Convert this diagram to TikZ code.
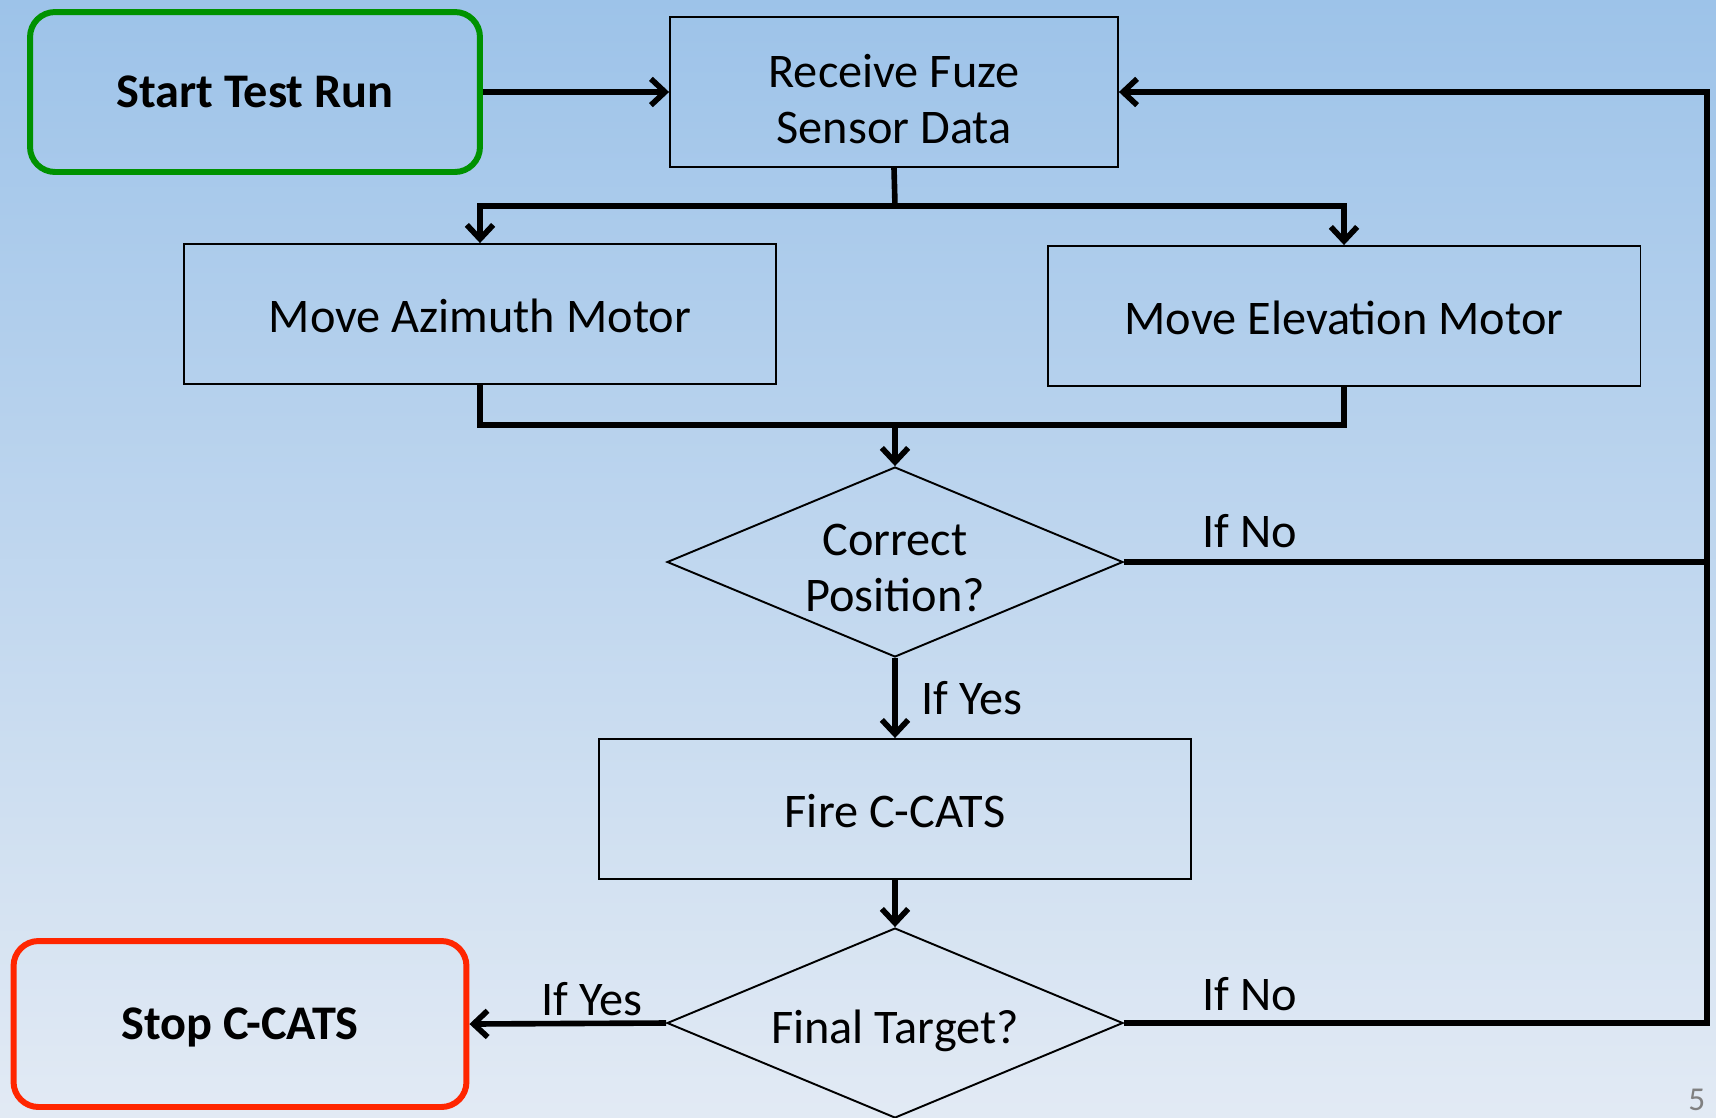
\documentclass[tikz,border=0pt]{standalone}
\usepackage{fontspec}
\setmainfont{Carlito}
\usetikzlibrary{shapes.geometric,arrows.meta}

\definecolor{bgtop}{RGB}{157,195,233}
\definecolor{bgbot}{RGB}{226,234,244}
\definecolor{startgreen}{RGB}{0,146,0}
\definecolor{stopred}{RGB}{255,38,0}

% push a (multi-line) text down inside its node: #1 = extra height on top
\newcommand{\lowtext}[2]{\makebox[0pt]{\raisebox{0pt}[\dimexpr\height+#1\relax][\depth]{\begin{tabular}{@{}c@{}}#2\end{tabular}}}}

\tikzset{
  stepbox/.style={draw, line width=1.1pt, minimum width=11.86cm, minimum height=2.8cm,
    font=\fontsize{27.5}{32}\selectfont},
  ends/.style={draw, rounded corners=0.5cm, line width=3.4pt,
    font=\fontsize{27.5}{32}\selectfont\bfseries},
  decision/.style={diamond, draw, line width=1.1pt, aspect=2.4, inner sep=0pt,
    minimum width=9.12cm, minimum height=3.8cm,
    font=\fontsize{27.5}{32}\selectfont},
  wire/.style={line width=3.2pt},
  conn/.style={wire, -{Straight Barb[length=8pt,width=15pt]}},
  lbl/.style={font=\fontsize{27.5}{32}\selectfont}
}

\begin{document}
\begin{tikzpicture}[x=0.02cm, y=-0.02cm]
  % Background
  \useasboundingbox (0,0) rectangle (1716,1117);
  \shade[top color=bgtop, bottom color=bgbot] (0,0) rectangle (1716,1117);

  % Boxes
  \node[ends, draw=startgreen, minimum width=9cm, minimum height=3.2cm] (start) at (255,92) {Start Test Run};
  \node[stepbox, minimum width=8.96cm, minimum height=3cm] (recv) at (894,92) {\lowtext{0.5cm}{Receive Fuze\\Sensor Data}};
  \node[stepbox] (azi) at (480,314) {\lowtext{0.3cm}{Move Azimuth Motor}};
  \node[stepbox] (elev) at (1344,316) {\lowtext{0.3cm}{Move Elevation Motor}};
  \node[decision] (pos) at (895,562) {\lowtext{0.4cm}{Correct\\Position?}};
  \node[stepbox] (fire) at (895,809) {\lowtext{0.28cm}{Fire C-CATS}};
  \node[decision] (final) at (895,1023) {\lowtext{0.36cm}{Final Target?}};
  \node[ends, draw=stopred, minimum width=9.06cm, minimum height=3.32cm] (stop) at (240,1024) {\lowtext{0.16cm}{Stop C-CATS}};

  % Connectors
  \draw[conn] (start) -- (recv);
  \coordinate (split) at (895,206);
  \draw[wire] (recv.south) -- (split);
  \draw[conn] (split) -| (azi.north);
  \draw[conn] (split) -| (elev.north);

  \coordinate (merge) at (895,425);
  \draw[wire] (azi.south) |- (merge);
  \draw[wire] (elev.south) |- (merge);
  \draw[conn] (merge) -- (pos.north);

  \draw[conn] (pos.south) -- (fire.north);
  \draw[conn] (fire.south) -- (final.north);
  \draw[conn] (final.west) -- (stop.east);

  % Loop back on the right
  \coordinate (loop) at (1707,562);
  \draw[conn] (pos.east) -- (loop) |- (recv.east);
  \draw[wire] (final.east) -| (loop);

  % Labels
  \node[lbl] (no1) at (1250,531) {If No};
  \node[lbl] (yes1) at (972,698) {If Yes};
  \node[lbl] (no2) at (1250,994) {If No};
  \node[lbl] (yes2) at (592,999) {If Yes};

  % Page number
  \node[text=gray, font=\fontsize{19}{23}\selectfont, inner sep=0pt, anchor=base west] (pagenum) at (1688,1110) {5};
\end{tikzpicture}
\end{document}
